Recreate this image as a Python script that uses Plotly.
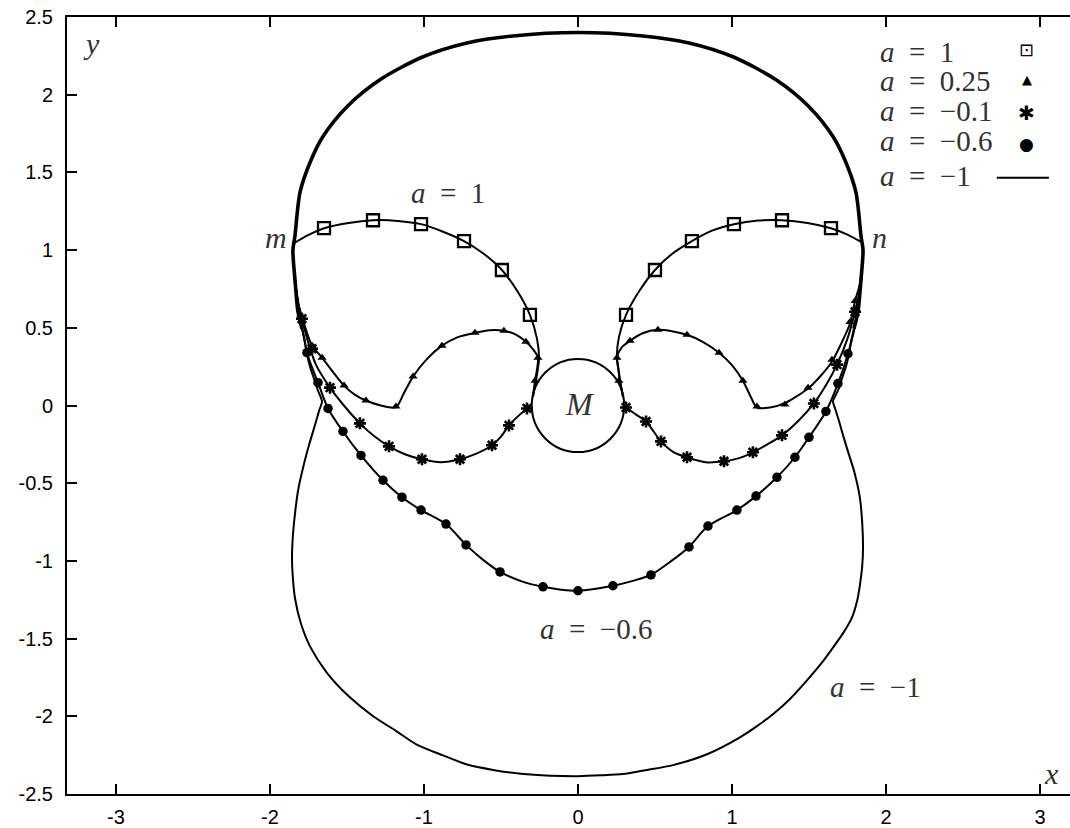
import plotly.graph_objects as go

# ---- data ------------------------------------------------------------------
# a = -1, upper arc (heavy, several curves overlap there)
am1_upper_x = [-1.792, -1.818, -1.838, -1.851, -1.838, -1.805, -1.740, -1.656, -1.500, -1.286, -1.006,
               -0.721, -0.422, 0.0, 0.422, 0.721, 1.006, 1.286, 1.500, 1.656, 1.740, 1.805, 1.838,
               1.851, 1.838, 1.818, 1.792]
am1_upper_y = [0.494, 0.603, 0.814, 1.0, 1.09, 1.372, 1.564, 1.731, 1.923, 2.096, 2.244,
               2.333, 2.378, 2.40, 2.378, 2.333, 2.244, 2.096, 1.923, 1.731, 1.564, 1.372, 1.09,
               1.0, 0.814, 0.603, 0.494]

# a = -1, lower bulge
am1_lower_x = [-1.792, -1.775, -1.760, -1.740, -1.714, -1.690, -1.662, -1.680, -1.700, -1.745, -1.786,
               -1.818, -1.838, -1.852, -1.857, -1.852, -1.838, -1.800, -1.740, -1.630, -1.490, -1.330,
               -1.180, -1.050, -0.880, -0.720, -0.550, -0.370, -0.180, 0.0, 0.150, 0.292, 0.450,
               0.617, 0.838, 1.052, 1.160, 1.266, 1.380, 1.487, 1.580, 1.656, 1.725, 1.779,
               1.812, 1.831, 1.846, 1.851, 1.846, 1.831, 1.795, 1.747, 1.715, 1.695, 1.670,
               1.656, 1.690, 1.714, 1.740, 1.760, 1.775, 1.792]
am1_lower_y = [0.494, 0.42, 0.333, 0.25, 0.173, 0.10, 0.026, -0.03, -0.10, -0.25, -0.404,
               -0.55, -0.70, -0.85, -0.981, -1.10, -1.237, -1.40, -1.55, -1.72, -1.87, -2.00,
               -2.095, -2.18, -2.25, -2.31, -2.345, -2.37, -2.382, -2.385, -2.38, -2.372, -2.345,
               -2.314, -2.244, -2.135, -2.065, -1.987, -1.885, -1.769, -1.66, -1.558, -1.46, -1.365,
               -1.26, -1.154, -1.03, -0.917, -0.76, -0.596, -0.43, -0.276, -0.17, -0.10, -0.02,
               0.026, 0.10, 0.173, 0.25, 0.333, 0.42, 0.494]

# a = 1 (squares)
a1_left_x = [-1.851, -1.753, -1.649, -1.49, -1.331, -1.17, -1.019, -0.88, -0.740, -0.61, -0.494,
             -0.39, -0.312, -0.266, -0.253, -0.273, -0.292]
a1_left_y = [1.04, 1.096, 1.141, 1.175, 1.192, 1.188, 1.167, 1.12, 1.058, 0.975, 0.872,
             0.73, 0.583, 0.429, 0.301, 0.160, 0.058]
a1_right_x = [0.292, 0.273, 0.253, 0.266, 0.312, 0.40, 0.50, 0.61, 0.740, 0.87, 1.013,
              1.17, 1.325, 1.49, 1.643, 1.75, 1.844]
a1_right_y = [0.058, 0.160, 0.321, 0.44, 0.583, 0.74, 0.872, 0.975, 1.058, 1.125, 1.167,
              1.19, 1.192, 1.175, 1.141, 1.10, 1.05]
a1_mark_x = [-1.649, -1.331, -1.019, -0.740, -0.494, -0.312, 0.312, 0.50, 0.740, 1.013, 1.325, 1.643]
a1_mark_y = [1.141, 1.192, 1.167, 1.058, 0.872, 0.583, 0.583, 0.872, 1.058, 1.167, 1.192, 1.141]

# a = 0.25 (triangles)
a025_left_x = [-1.845, -1.818, -1.792, -1.760, -1.727, -1.662, -1.590, -1.519, -1.45, -1.377, -1.28,
               -1.182, -1.13, -1.071, -0.98, -0.883, -0.78, -0.669, -0.575, -0.481, -0.40, -0.338,
               -0.290, -0.260, -0.268, -0.279, -0.292]
a025_left_y = [0.85, 0.66, 0.571, 0.47, 0.385, 0.308, 0.215, 0.128, 0.07, 0.032, 0.0,
               -0.01, 0.08, 0.186, 0.30, 0.385, 0.44, 0.468, 0.485, 0.481, 0.455, 0.410,
               0.36, 0.308, 0.22, 0.160, 0.058]
a025_right_x = [0.292, 0.273, 0.262, 0.253, 0.285, 0.338, 0.42, 0.519, 0.61, 0.708, 0.81,
                0.916, 1.0, 1.071, 1.12, 1.162, 1.247, 1.351, 1.43, 1.494, 1.575, 1.649,
                1.71, 1.766, 1.799, 1.825, 1.845]
a025_right_y = [0.058, 0.160, 0.24, 0.308, 0.375, 0.417, 0.465, 0.487, 0.478, 0.455, 0.41,
                0.340, 0.26, 0.160, 0.06, -0.013, -0.013, 0.019, 0.065, 0.109, 0.19, 0.282,
                0.40, 0.526, 0.673, 0.76, 0.85]
a025_mark_x = [-1.80, -1.727, -1.662, -1.519, -1.377, -1.182, -1.071, -0.883, -0.669, -0.481, -0.338,
               -0.260, -0.279, 0.266, 0.253, 0.338, 0.519, 0.708, 0.916, 1.071, 1.162, 1.344,
               1.494, 1.649, 1.766, 1.799]
a025_mark_y = [0.58, 0.385, 0.308, 0.128, 0.032, -0.006, 0.186, 0.385, 0.468, 0.481, 0.410,
               0.308, 0.160, 0.160, 0.308, 0.417, 0.487, 0.455, 0.340, 0.160, -0.006, 0.006,
               0.115, 0.295, 0.538, 0.673]

# a = -0.1 (asterisks)
am01_left_x = [-1.845, -1.815, -1.792, -1.75, -1.70, -1.610, -1.52, -1.416, -1.32, -1.227, -1.12,
               -1.013, -0.89, -0.766, -0.66, -0.558, -0.50, -0.448, -0.39, -0.331, -0.30]
am01_left_y = [0.85, 0.65, 0.558, 0.40, 0.26, 0.115, 0.0, -0.115, -0.20, -0.263, -0.315,
               -0.346, -0.365, -0.346, -0.31, -0.256, -0.20, -0.128, -0.07, -0.019, 0.0]
am01_right_x = [0.30, 0.312, 0.38, 0.442, 0.539, 0.62, 0.708, 0.83, 0.948, 1.04, 1.136,
                1.23, 1.325, 1.43, 1.532, 1.61, 1.682, 1.75, 1.799, 1.825, 1.845]
am01_right_y = [0.0, -0.013, -0.06, -0.103, -0.231, -0.30, -0.333, -0.365, -0.359, -0.34, -0.301,
                -0.25, -0.192, -0.10, 0.013, 0.13, 0.263, 0.43, 0.603, 0.72, 0.85]
am01_mark_x = [-1.792, -1.727, -1.610, -1.416, -1.227, -1.013, -0.766, -0.558, -0.448, -0.331,
               0.312, 0.442, 0.539, 0.708, 0.948, 1.136, 1.325, 1.532, 1.682, 1.799]
am01_mark_y = [0.558, 0.365, 0.115, -0.115, -0.263, -0.346, -0.346, -0.256, -0.128, -0.019,
               -0.013, -0.103, -0.231, -0.333, -0.359, -0.301, -0.192, 0.013, 0.263, 0.603]

# a = -0.6 (filled circles)
am06_x = [-1.845, -1.815, -1.790, -1.760, -1.725, -1.688, -1.623, -1.526, -1.409, -1.266, -1.143,
          -1.019, -0.857, -0.727, -0.62, -0.506, -0.37, -0.227, -0.11, 0.0, 0.227, 0.35,
          0.474, 0.60, 0.721, 0.844, 1.032, 1.156, 1.292, 1.409, 1.5, 1.610, 1.688,
          1.753, 1.79, 1.818, 1.845]
am06_y = [0.85, 0.65, 0.50, 0.340, 0.24, 0.147, -0.019, -0.167, -0.321, -0.481, -0.590,
          -0.673, -0.763, -0.897, -0.99, -1.071, -1.13, -1.167, -1.185, -1.192, -1.160, -1.13,
          -1.090, -1.005, -0.910, -0.776, -0.673, -0.583, -0.462, -0.333, -0.205, -0.038, 0.141,
          0.333, 0.47, 0.62, 0.85]
am06_mark_x = [-1.760, -1.688, -1.623, -1.526, -1.409, -1.266, -1.143, -1.019, -0.857, -0.727,
               -0.506, -0.227, 0.0, 0.227, 0.474, 0.721, 0.844, 1.032, 1.156, 1.292, 1.409,
               1.5, 1.610, 1.688, 1.753]
am06_mark_y = [0.340, 0.147, -0.019, -0.167, -0.321, -0.481, -0.590, -0.673, -0.763, -0.897,
               -1.071, -1.167, -1.192, -1.160, -1.090, -0.910, -0.776, -0.673, -0.583, -0.462, -0.333,
               -0.205, -0.038, 0.141, 0.333]

# body M
m_center_x, m_center_y, m_radius = 0.0, 0.0, 0.3

x_ticks = [-3, -2, -1, 0, 1, 2, 3]
x_tick_labels = ["-3", "-2", "-1", "0", "1", "2", "3"]
y_ticks = [-2.5, -2, -1.5, -1, -0.5, 0, 0.5, 1, 1.5, 2, 2.5]
y_tick_labels = ["-2.5", "-2", "-1.5", "-1", "-0.5", "0", "0.5", "1", "1.5", "2", "2.5"]

legend_labels = ["<i>a</i>\u2002=\u20021", "<i>a</i>\u2002=\u20020.25", "<i>a</i>\u2002=\u2002\u22120.1",
                 "<i>a</i>\u2002=\u2002\u22120.6", "<i>a</i>\u2002=\u2002\u22121"]
legend_keys = ["\u22a1", "\u25b2", "\u2731", "\u25cf"]

SERIF = "Liberation Serif, Times New Roman, serif"
TXT = "#333333"

fig = go.Figure()


def add_line(x, y, width=2.0, smooth=0.8):
    fig.add_trace(go.Scatter(x=x, y=y, mode="lines", hoverinfo="skip", showlegend=False,
                             line=dict(color="black", width=width, shape="spline", smoothing=smooth)))


def add_marks(x, y, symbol, size, lw=0):
    fig.add_trace(go.Scatter(x=x, y=y, mode="markers", hoverinfo="skip", showlegend=False,
                             marker=dict(symbol=symbol, size=size, color="black",
                                         line=dict(color="black", width=lw))))


add_line(am1_upper_x, am1_upper_y, 3.6)
add_line(am1_lower_x, am1_lower_y, 2.0, 0.7)
add_line(a1_left_x, a1_left_y)
add_line(a1_right_x, a1_right_y)
add_line(a025_left_x, a025_left_y)
add_line(a025_right_x, a025_right_y)
add_line(am01_left_x, am01_left_y)
add_line(am01_right_x, am01_right_y)
add_line(am06_x, am06_y)

add_marks(a1_mark_x, a1_mark_y, "square-open", 12, 2.3)
add_marks(a025_mark_x, a025_mark_y, "triangle-up", 8)
add_marks(am01_mark_x, am01_mark_y, "asterisk-open", 10, 2.6)
add_marks(am06_mark_x, am06_mark_y, "circle", 9.5)

fig.add_shape(type="circle", xref="x", yref="y",
              x0=m_center_x - m_radius, x1=m_center_x + m_radius,
              y0=m_center_y - m_radius, y1=m_center_y + m_radius,
              line=dict(color="black", width=2))

# in-plot labels
labels = [
    (-3.156, 2.33, "<i>y</i>", 30),
    (3.078, -2.365, "<i>x</i>", 30),
    (-1.961, 1.08, "<i>m</i>", 30),
    (1.955, 1.08, "<i>n</i>", 30),
    (0.01, 0.01, "<i>M</i>", 32),
    (-0.844, 1.37, legend_labels[0], 29),
    (0.117, -1.436, legend_labels[3], 29),
    (1.935, -1.814, legend_labels[4], 29),
]
for lx, ly, txt, fs in labels:
    fig.add_annotation(x=lx, y=ly, text=txt, showarrow=False, xanchor="center", yanchor="middle",
                       font=dict(family=SERIF, size=fs, color=TXT))

# key, gnuplot style: text on the left, symbol on the right
leg_rows = [0.955, 0.917, 0.879, 0.840, 0.796]
key_rows = [0.958, 0.919, 0.877, 0.836]
key_sizes = [18, 13, 20, 17]
for lbl, ry in zip(legend_labels, leg_rows):
    fig.add_annotation(x=0.8086, y=ry, xref="paper", yref="paper", text=lbl, showarrow=False,
                       xanchor="left", yanchor="middle", font=dict(family=SERIF, size=29, color=TXT))
for key, ky, ks in zip(legend_keys, key_rows, key_sizes):
    fig.add_annotation(x=0.957, y=ky, xref="paper", yref="paper", text=key, showarrow=False,
                       xanchor="center", yanchor="middle",
                       font=dict(family="DejaVu Sans", size=ks, color="black"))
fig.add_shape(type="line", xref="paper", yref="paper", x0=0.927, x1=0.979, y0=0.793, y1=0.793,
              line=dict(color="black", width=2))

axis_common = dict(showgrid=False, zeroline=False, showline=True, linecolor="black", linewidth=2,
                   ticks="inside", ticklen=10, tickwidth=2, tickcolor="black",
                   tickfont=dict(family="Liberation Sans, Arial, sans-serif", size=20, color="black"))

fig.update_layout(
    width=1070, height=828,
    margin=dict(l=67, r=0, t=17, b=34),
    paper_bgcolor="white", plot_bgcolor="white",
    showlegend=False,
    xaxis=dict(range=[-3.318, 3.195], tickvals=x_ticks, ticktext=x_tick_labels,
               mirror="ticks", ticklabelstandoff=4, **axis_common),
    yaxis=dict(range=[-2.5, 2.5], tickvals=y_ticks, ticktext=y_tick_labels,
               ticklabelstandoff=8, **axis_common),
)

# page body has an 8px default margin; drop it so the figure sits at the window corner
fig.write_html("out.html", config={"displayModeBar": False},
               post_script="document.body.style.margin='0px';")
